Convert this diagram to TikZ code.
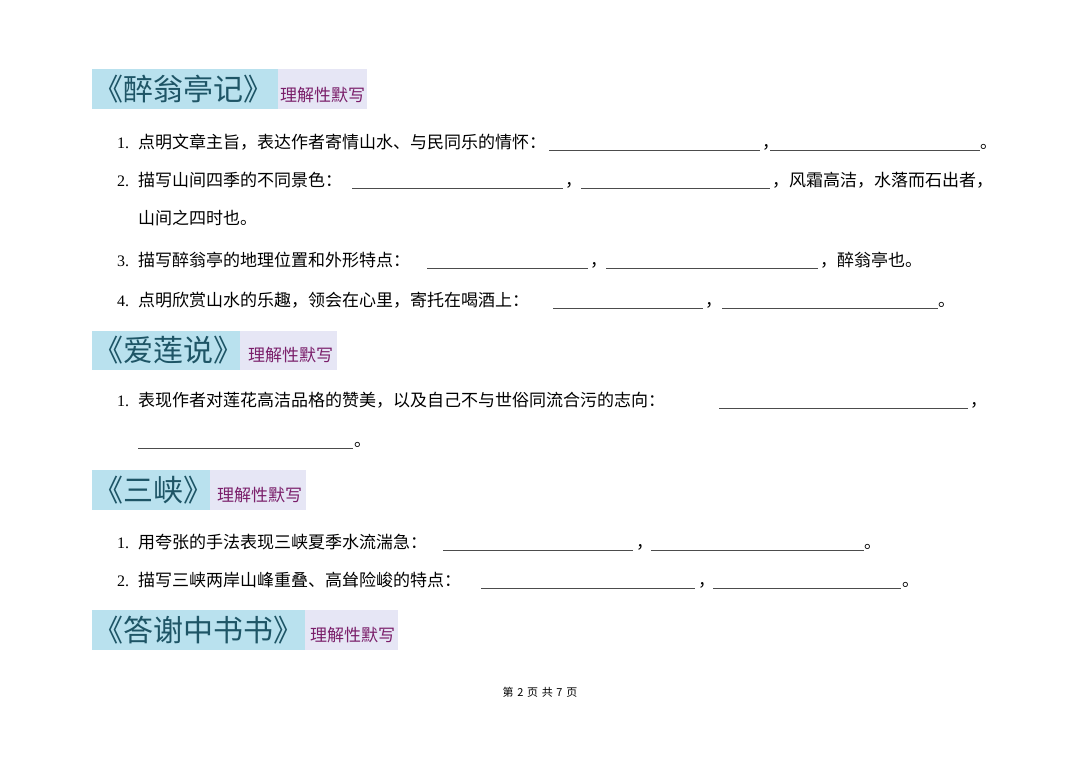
\documentclass[tikz,border=0pt]{standalone}
\usepackage{fontspec}
\setmainfont{Liberation Serif}
\newfontfamily\cjk{Noto Sans CJK SC}
\definecolor{hblue}{HTML}{B9E1EE}
\definecolor{hlav}{HTML}{E6E6F5}
\definecolor{htxt}{HTML}{1E5566}
\definecolor{hsub}{HTML}{7A1E6A}
\tikzset{seg/.style={anchor=base west,inner sep=0pt,font=\cjk\fontsize{17}{17}\selectfont},
num/.style={anchor=base west,inner sep=0pt,font=\fontsize{16}{16}\selectfont},
blank/.style={line width=0.6pt,black!70}}
\newcommand{\hdr}[6]{% name, y1, y2, xsplit, xend, title
\fill[hblue] (92,#2) rectangle (#4,#3);
\fill[hlav] (#4,#2) rectangle (#5,#3);
\node[anchor=west,inner sep=0pt,text=htxt,font=\cjk\fontsize{30}{30}\selectfont] (#1) at (93,{(#2+#3)/2}) {#6};}
\newcommand{\sub}[3]{\node[anchor=west,inner sep=0pt,text=hsub,font=\cjk\fontsize{17}{17}\selectfont] (#1) at (#2,#3) {理解性默写};}
\newcommand{\bl}[3]{\draw[blank] (#1,#3+8) -- (#2,#3+8);}
\newcommand{\sg}[3]{\node[seg] at (#1,#2+6) {#3};}
\newcommand{\nm}[2]{\node[num] at (117,#1+6) {#2};}
\begin{document}
\begin{tikzpicture}[x=1pt,y=-1pt]
\useasboundingbox (0,0) rectangle (1080,764);
\fill[white] (0,0) rectangle (1080,764);
% header 1
\hdr{h1}{69}{109}{278}{367}{《醉翁亭记》}
\sub{s1}{280}{95}
\nm{142}{1.}\sg{138}{142}{点明文章主旨，表达作者寄情山水、与民同乐的情怀：}
\bl{549}{760}{142}\sg{762}{142}{，}\bl{770}{980}{142}\sg{980}{142}{。}
\nm{180}{2.}\sg{138}{180}{描写山间四季的不同景色：}
\bl{352}{563}{180}\sg{565}{180}{，}\bl{581}{770}{180}\sg{772}{180}{，风霜高洁，水落而石出者，}
\sg{138}{218}{山间之四时也。}
\nm{260}{3.}\sg{138}{260}{描写醉翁亭的地理位置和外形特点：}
\bl{427}{588}{260}\sg{590}{260}{，}\bl{606}{818}{260}\sg{820}{260}{，醉翁亭也。}
\nm{300}{4.}\sg{138}{300}{点明欣赏山水的乐趣，领会在心里，寄托在喝酒上：}
\bl{553}{703}{300}\sg{705}{300}{，}\bl{722}{938}{300}\sg{938}{300}{。}
% header 2
\hdr{h2}{331}{370}{240}{337}{《爱莲说》}
\sub{s2}{248}{355}
\nm{400}{1.}\sg{138}{400}{表现作者对莲花高洁品格的赞美，以及自己不与世俗同流合污的志向：}
\bl{719}{968}{400}\sg{970}{400}{，}
\bl{138}{353}{440}\sg{354}{440}{。}
% header 3
\hdr{h3}{470}{510}{210}{306}{《三峡》}
\sub{s3}{217}{495}
\nm{542}{1.}\sg{138}{542}{用夸张的手法表现三峡夏季水流湍急：}
\bl{443}{633}{542}\sg{636}{542}{，}\bl{651}{864}{542}\sg{864}{542}{。}
\nm{580}{2.}\sg{138}{580}{描写三峡两岸山峰重叠、高耸险峻的特点：}
\bl{481}{695}{580}\sg{698}{580}{，}\bl{713}{901}{580}\sg{902}{580}{。}
% header 4
\hdr{h4}{610}{650}{305}{398}{《答谢中书书》}
\sub{s4}{310}{635}
\node[font=\cjk\fontsize{11}{11}\selectfont] (ft) at (540,692) {第\,\,2\,\,页\,\,共\,\,7\,\,页};
\end{tikzpicture}
\end{document}
